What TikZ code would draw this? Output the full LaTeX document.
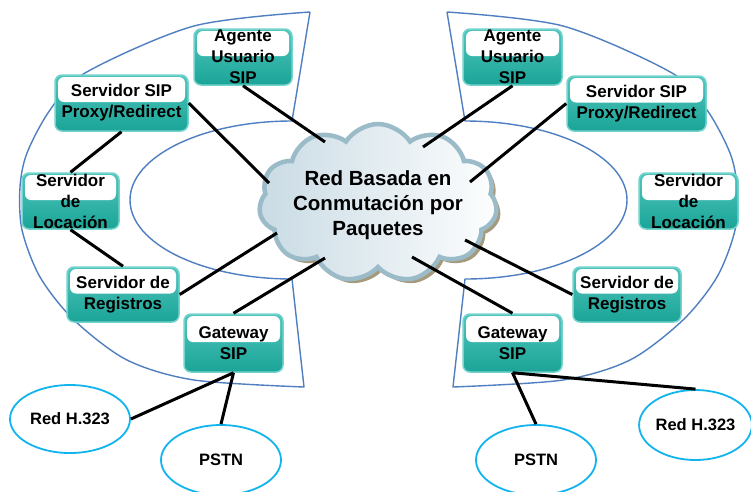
\documentclass[tikz,border=0pt]{standalone}
\usepackage{fontspec}
\setmainfont{Liberation Sans}
\usetikzlibrary{shapes.symbols,shapes.geometric}
\definecolor{arcblue}{HTML}{4F7FC0}
\definecolor{ellcyan}{HTML}{12B4EE}
\definecolor{tealtop}{HTML}{52C6BE}
\definecolor{tealbot}{HTML}{1AA497}
\definecolor{tealedge}{HTML}{74D3CC}
\definecolor{cloudedge}{HTML}{9CBBC9}
\definecolor{cloudshadow}{HTML}{A69A7C}
\definecolor{cloudleft}{HTML}{C9DBE4}
\tikzset{
  sipbox/.style={rounded corners=7pt, draw=tealedge, line width=1.5pt,
    top color=tealtop, bottom color=tealbot, inner sep=0pt, align=center,
    font=\fontsize{17}{21}\selectfont\bfseries,
    path picture={\fill[white, rounded corners=6pt]
      ([xshift=3pt,yshift=-2pt]path picture bounding box.north west)
      rectangle ([xshift=-3pt,yshift=1pt]path picture bounding box.east);}},
  netell/.style={ellipse, draw=ellcyan, line width=1.8pt, fill=white, inner sep=0pt,
    font=\fontsize{16.5}{20}\selectfont\bfseries},
  link/.style={line width=3pt, black},
  zone/.style={draw=arcblue, line width=1.4pt, line join=round},
  cloudbase/.style={cloud, cloud puffs=11, cloud puff arc=115, aspect=1.5,
    minimum width=238pt, minimum height=158pt, inner sep=0pt},
}
\begin{document}
\begin{tikzpicture}[x=1pt,y=-1pt]
\fill[white] (0,0) rectangle (751,491);
\useasboundingbox (0,0) rectangle (751,491);

% zones
\draw[zone] (310,12) -- (292,121)
  arc[start angle=270, end angle=90, x radius=162, y radius=79]
  -- plot[smooth] coordinates {(304,387) (194,380) (127,360) (74,320) (40,277) (22,230) (20,187) (27,153) (50,110) (85,73) (194,26) (310,12)};
\draw[zone] (447,12) -- (465,121)
  arc[start angle=270, end angle=450, x radius=162, y radius=79]
  -- plot[smooth] coordinates {(453,387) (563,380) (630,360) (683,320) (717,277) (735,230) (737,187) (730,153) (707,110) (672,73) (563,26) (447,12)};

% cloud
\node[cloudbase, fill=cloudshadow] (netshadow) at (382,207) {};
\node[cloudbase, draw=cloudedge, line width=4.5pt, left color=cloudleft, right color=white!96!cloudleft] (net) at (378,203) {};
\node[align=center, font=\fontsize{20.5}{25}\selectfont\bfseries] (nettext) at (378,205) {Red Basada en\\Conmutación por\\Paquetes};

% left boxes
\node[sipbox, minimum width=98pt, minimum height=56pt] (uaL) at (243,57) {Agente\\Usuario\\SIP};
\node[sipbox, minimum width=133pt, minimum height=56pt] (pxL) at (121.5,103) {Servidor SIP\\Proxy/Redirect};
\node[sipbox, minimum width=97pt, minimum height=56pt] (locL) at (70.5,201) {Servidor\\de\\Locación};
\node[sipbox, minimum width=112pt, minimum height=55pt] (regL) at (123,294.5) {Servidor de\\Registros};
\node[sipbox, minimum width=99pt, minimum height=58pt] (gwL) at (233.5,343) {Gateway\\SIP};
% right boxes
\node[sipbox, minimum width=99pt, minimum height=56pt] (uaR) at (512.5,57) {Agente\\Usuario\\SIP};
\node[sipbox, minimum width=139pt, minimum height=55pt] (pxR) at (636.5,103.5) {Servidor SIP\\Proxy/Redirect};
\node[sipbox, minimum width=99pt, minimum height=56pt] (locR) at (688.5,201) {Servidor\\de\\Locación};
\node[sipbox, minimum width=108pt, minimum height=55pt] (regR) at (627,294.5) {Servidor de\\Registros};
\node[sipbox, minimum width=99pt, minimum height=58pt] (gwR) at (512.5,343) {Gateway\\SIP};

% outer networks
\node[netell, minimum width=120pt, minimum height=68pt] (h323L) at (70,419) {Red H.323};
\node[netell, minimum width=120pt, minimum height=70pt] (pstnL) at (221,460) {PSTN};
\node[netell, minimum width=120pt, minimum height=70pt] (pstnR) at (536,460) {PSTN};
\node[netell, minimum width=111pt, minimum height=70pt] (h323R) at (695.5,425) {Red H.323};

% cloud attachment points
\coordinate (c1) at (325,142);
\coordinate (c2) at (269,183);
\coordinate (c3) at (277,233);
\coordinate (c4) at (325,258);
\coordinate (c5) at (423,147);
\coordinate (c6) at (470,182);
\coordinate (c7) at (465,240);
\coordinate (c8) at (412,257);

% links
\draw[link] (uaL.south) -- (c1);
\draw[link] (pxL.east) -- (c2);
\draw[link] (pxL.south) -- (locL.north);
\draw[link] (locL.south) -- (regL.north);
\draw[link] (regL.east) -- (c3);
\draw[link] (gwL.north) -- (c4);
\draw[link] (gwL.south) -- (h323L.east);
\draw[link] (gwL.south) -- (pstnL.north);
\draw[link] (uaR.south) -- (c5);
\draw[link] (pxR.west) -- (c6);
\draw[link] (regR.west) -- (c7);
\draw[link] (gwR.north) -- (c8);
\draw[link] (gwR.south) -- (pstnR.north);
\draw[link] (gwR.south) -- (h323R.north);
\end{tikzpicture}
\end{document}
